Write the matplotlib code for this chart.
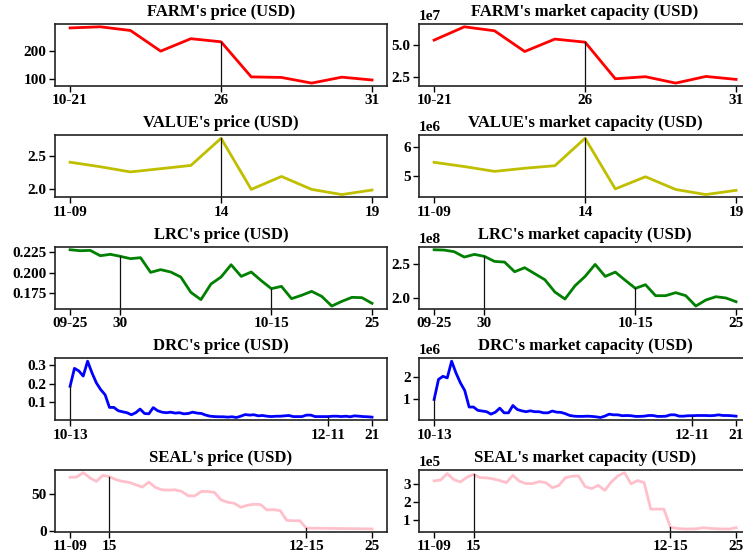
import matplotlib
matplotlib.use("Agg")
import matplotlib.pyplot as plt

# FARM, 10-21 .. 10-31
farm_price = [282, 286, 273, 200, 244, 233, 109, 107, 87, 108, 98]
farm_cap = [5.39e7, 6.43e7, 6.12e7, 4.50e7, 5.47e7, 5.23e7, 2.37e7, 2.53e7, 2.03e7, 2.55e7, 2.32e7]
farm_ticks = [0, 5, 10]
farm_ticklabels = ['10-21', '26', '31']
farm_events = [5]

# VALUE, 11-09 .. 11-19
value_price = [2.41, 2.34, 2.26, 2.31, 2.36, 2.78, 1.99, 2.19, 1.99, 1.91, 1.98]
value_cap = [5.47e6, 5.32e6, 5.15e6, 5.26e6, 5.35e6, 6.32e6, 4.53e6, 4.96e6, 4.51e6, 4.33e6, 4.48e6]
value_ticks = [0, 5, 10]
value_ticklabels = ['11-09', '14', '19']
value_events = [5]

# LRC, 09-25 .. 10-25
lrc_price = [0.2278, 0.2266, 0.2270, 0.2205, 0.2222, 0.2197, 0.2169, 0.2181, 0.2002, 0.2035,
             0.2006, 0.1945, 0.1758, 0.1669, 0.1860, 0.1945, 0.2095, 0.1953, 0.2006, 0.1900,
             0.1803, 0.1831, 0.1681, 0.1722, 0.1770, 0.1709, 0.1591, 0.1648, 0.1697, 0.1693,
             0.1624]
lrc_cap = [2.709e8, 2.704e8, 2.680e8, 2.602e8, 2.641e8, 2.612e8, 2.539e8, 2.529e8, 2.388e8, 2.447e8,
           2.359e8, 2.272e8, 2.092e8, 1.990e8, 2.184e8, 2.320e8, 2.495e8, 2.320e8, 2.383e8, 2.262e8,
           2.146e8, 2.199e8, 2.039e8, 2.039e8, 2.083e8, 2.039e8, 1.888e8, 1.976e8, 2.024e8, 2.005e8,
           1.951e8]
lrc_ticks = [0, 5, 20, 30]
lrc_ticklabels = ['09-25', '30', '10-15', '25']
lrc_events = [5, 20]

# DRC, 10-13 .. 12-21
drc_price = [0.185, 0.283, 0.269, 0.241, 0.322, 0.259, 0.204, 0.167, 0.139, 0.070,
             0.070, 0.052, 0.046, 0.041, 0.030, 0.041, 0.061, 0.037, 0.035, 0.069,
             0.052, 0.044, 0.041, 0.044, 0.039, 0.041, 0.035, 0.037, 0.044, 0.039,
             0.037, 0.028, 0.022, 0.020, 0.019, 0.019, 0.017, 0.019, 0.015, 0.022,
             0.031, 0.028, 0.030, 0.024, 0.026, 0.022, 0.020, 0.022, 0.022, 0.024,
             0.026, 0.020, 0.020, 0.020, 0.028, 0.028, 0.020, 0.020, 0.020, 0.020,
             0.022, 0.022, 0.020, 0.022, 0.019, 0.024, 0.022, 0.020, 0.019, 0.017]
drc_cap = [1.00e6, 1.90e6, 2.04e6, 1.97e6, 2.72e6, 2.19e6, 1.75e6, 1.40e6, 0.66e6, 0.66e6,
           0.51e6, 0.48e6, 0.45e6, 0.34e6, 0.43e6, 0.61e6, 0.40e6, 0.40e6, 0.73e6, 0.55e6,
           0.49e6, 0.45e6, 0.49e6, 0.45e6, 0.45e6, 0.40e6, 0.40e6, 0.48e6, 0.43e6, 0.42e6,
           0.36e6, 0.28e6, 0.25e6, 0.24e6, 0.24e6, 0.25e6, 0.24e6, 0.22e6, 0.19e6, 0.25e6,
           0.34e6, 0.31e6, 0.31e6, 0.27e6, 0.28e6, 0.27e6, 0.24e6, 0.24e6, 0.25e6, 0.28e6,
           0.28e6, 0.24e6, 0.24e6, 0.25e6, 0.31e6, 0.31e6, 0.25e6, 0.25e6, 0.27e6, 0.27e6,
           0.28e6, 0.28e6, 0.28e6, 0.27e6, 0.28e6, 0.31e6, 0.28e6, 0.28e6, 0.27e6, 0.25e6]
drc_ticks = [0, 59, 69]
drc_ticklabels = ['10-13', '12-11', '21']
drc_events = [0, 59]

# SEAL, 11-09 .. 12-25
seal_price = [72.3, 72.7, 78.6, 71.8, 66.8, 75.0, 73.2, 69.1, 66.8, 65.5,
              62.3, 59.1, 65.9, 58.6, 55.5, 55.0, 55.5, 53.2, 47.3, 47.3,
              53.2, 53.2, 51.8, 41.8, 38.6, 37.3, 31.8, 34.5, 35.9, 35.5,
              28.2, 28.6, 27.3, 14.1, 13.6, 13.6, 3.6, 3.5, 3.4, 3.3,
              3.2, 3.1, 3.0, 2.9, 2.8, 2.6, 2.5]
seal_cap = [3.19e5, 3.24e5, 3.60e5, 3.26e5, 3.13e5, 3.39e5, 3.56e5, 3.37e5, 3.36e5, 3.30e5,
            3.21e5, 3.09e5, 3.50e5, 3.17e5, 3.04e5, 3.04e5, 3.15e5, 3.09e5, 2.81e5, 2.93e5,
            3.37e5, 3.45e5, 3.47e5, 2.87e5, 2.76e5, 2.94e5, 2.66e5, 3.13e5, 3.47e5, 3.65e5,
            3.02e5, 3.21e5, 3.09e5, 1.61e5, 1.61e5, 1.61e5, 0.59e5, 0.53e5, 0.50e5, 0.50e5,
            0.51e5, 0.57e5, 0.53e5, 0.51e5, 0.50e5, 0.50e5, 0.57e5]
seal_ticks = [0, 6, 36, 46]
seal_ticklabels = ['11-09', '15', '12-15', '25']
seal_events = [6, 36]

tokens = ['FARM', 'VALUE', 'LRC', 'DRC', 'SEAL']
prices = [farm_price, value_price, lrc_price, drc_price, seal_price]
caps = [farm_cap, value_cap, lrc_cap, drc_cap, seal_cap]
ticks = [farm_ticks, value_ticks, lrc_ticks, drc_ticks, seal_ticks]
ticklabels = [farm_ticklabels, value_ticklabels, lrc_ticklabels, drc_ticklabels, seal_ticklabels]
events = [farm_events, value_events, lrc_events, drc_events, seal_events]
colors = ['r', 'y', 'g', 'b', 'pink']
price_yticks = [[100, 200], [2.0, 2.5], [0.175, 0.200, 0.225], [0.1, 0.2, 0.3], [0, 50]]
cap_yticks = [[2.5e7, 5.0e7], [5e6, 6e6], [2.0e8, 2.5e8], [1e6, 2e6], [1e5, 2e5, 3e5]]

plt.rcParams['font.family'] = 'Liberation Serif'
plt.rcParams['font.weight'] = 'bold'
plt.rcParams['font.size'] = 11

fig, axes = plt.subplots(5, 2, figsize=(7.43, 5.58), dpi=100)
fig.subplots_adjust(left=0.074, right=1.011, top=0.957, bottom=0.047, wspace=0.096, hspace=0.8)


def draw(ax, values, title, color, xt, xtl, ev, yt):
    x = list(range(len(values)))
    ax.plot(x, values, color=color, lw=2)
    ax.set_yticks(yt)
    ylim = ax.get_ylim()
    # vertical marker from the bottom of the axes up to the event point
    for e in ev:
        ax.plot([e, e], [ylim[0], values[e]], color='#111111', lw=0.9)
    ax.set_ylim(ylim)
    ax.set_xticks(xt)
    ax.set_xticklabels(xtl)
    ax.set_title(title, fontsize=12, fontweight='bold')
    for s in ax.spines.values():
        s.set_linewidth(1.2)
        s.set_color('#222222')
    ax.tick_params(axis='both', length=4, width=1, labelsize=11, pad=2)


for i, tok in enumerate(tokens):
    draw(axes[i, 0], prices[i], tok + "'s price (USD)", colors[i],
         ticks[i], ticklabels[i], events[i], price_yticks[i])
    draw(axes[i, 1], caps[i], tok + "'s market capacity (USD)", colors[i],
         ticks[i], ticklabels[i], events[i], cap_yticks[i])
    axes[i, 1].ticklabel_format(axis='y', style='sci', scilimits=(0, 0))

fig.savefig('out.png', dpi=100)
